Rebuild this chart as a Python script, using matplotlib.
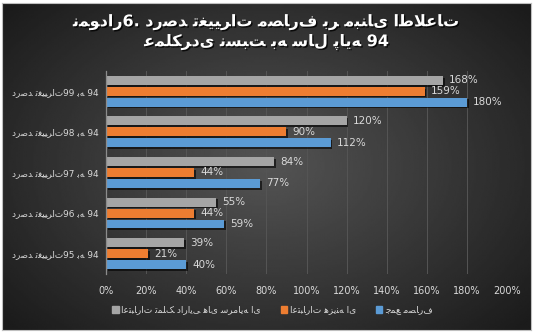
import numpy as np
import matplotlib.pyplot as plt
from matplotlib import patheffects as pe

# Arabic/Persian letters -> presentation forms (isolated, final, initial, medial)
FORMS = {
    "ا": ("\uFE8D", "\uFE8E"),
    "د": ("\uFEA9", "\uFEAA"),
    "ر": ("\uFEAD", "\uFEAE"),
    "ز": ("\uFEAF", "\uFEB0"),
    "و": ("\uFEED", "\uFEEE"),
    "ب": ("\uFE8F", "\uFE90", "\uFE91", "\uFE92"),
    "پ": ("\uFB56", "\uFB57", "\uFB58", "\uFB59"),
    "ت": ("\uFE95", "\uFE96", "\uFE97", "\uFE98"),
    "ج": ("\uFE9D", "\uFE9E", "\uFE9F", "\uFEA0"),
    "ح": ("\uFEA1", "\uFEA2", "\uFEA3", "\uFEA4"),
    "س": ("\uFEB1", "\uFEB2", "\uFEB3", "\uFEB4"),
    "ص": ("\uFEB9", "\uFEBA", "\uFEBB", "\uFEBC"),
    "ط": ("\uFEC1", "\uFEC2", "\uFEC3", "\uFEC4"),
    "ع": ("\uFEC9", "\uFECA", "\uFECB", "\uFECC"),
    "غ": ("\uFECD", "\uFECE", "\uFECF", "\uFED0"),
    "ف": ("\uFED1", "\uFED2", "\uFED3", "\uFED4"),
    "ک": ("\uFB8E", "\uFB8F", "\uFB90", "\uFB91"),
    "ل": ("\uFEDD", "\uFEDE", "\uFEDF", "\uFEE0"),
    "م": ("\uFEE1", "\uFEE2", "\uFEE3", "\uFEE4"),
    "ن": ("\uFEE5", "\uFEE6", "\uFEE7", "\uFEE8"),
    "ه": ("\uFEE9", "\uFEEA", "\uFEEB", "\uFEEC"),
    "ی": ("\uFBFC", "\uFBFD", "\uFBFE", "\uFBFF"),
}
LRM = "\u200e"


def shape_word(w):
    out = []
    i = 0
    n = len(w)
    while i < n:
        c = w[i]
        prev = w[i - 1] if i > 0 else None
        prev_joins = prev is not None and len(FORMS[prev]) == 4
        if c == "ل" and i + 1 < n and w[i + 1] == "ا":
            out.append("\uFEFC" if prev_joins else "\uFEFB")
            i += 2
            continue
        f = FORMS[c]
        next_joins = len(f) == 4 and i + 1 < n
        if prev_joins and next_joins:
            out.append(f[3])
        elif prev_joins:
            out.append(f[1])
        elif next_joins:
            out.append(f[2])
        else:
            out.append(f[0])
        i += 1
    return "".join(out)


def fa(s):
    # the renderer reorders right-to-left runs itself; LRMs keep the words
    # in left-to-right order as in the reference picture
    res = LRM
    run = ""
    for ch in s:
        if ch in FORMS:
            run += ch
        else:
            if run:
                res += shape_word(run) + LRM
                run = ""
            res += ch
            if ch == " ":
                res += LRM
    if run:
        res += shape_word(run) + LRM
    return res


title1 = "نمودار6. درصد تغییرات مصارف بر مبنای اطلاعات"
title2 = "عملکردی نسبت به سال پایه 94"
categories = ["درصد تغییرات99 به 94", "درصد تغییرات98 به 94", "درصد تغییرات97 به 94",
              "درصد تغییرات96 به 94", "درصد تغییرات95 به 94"]
series_names = ["اعتبارات تملک دارایی های سرمایه ای", "اعتبارات هزینه ای", "جمع مصارف"]
capital = [168, 120, 84, 55, 39]
current = [159, 90, 44, 44, 21]
total = [180, 112, 77, 59, 40]
xticks = [0, 20, 40, 60, 80, 100, 120, 140, 160, 180, 200]

colors = ["#A5A5A5", "#ED7D31", "#5B9BD5"]
txt = "#d9d9d9"

fig = plt.figure(figsize=(5.34, 3.32), dpi=100, facecolor="white")

# dark radial background
bg = fig.add_axes([0.004, 0.006, 0.99, 0.985])
yy, xx = np.mgrid[-1:1:200j, -1:1:320j]
r = np.sqrt(xx ** 2 + (yy * 0.9) ** 2)
bg.imshow(0.33 - 0.17 * np.clip(r, 0, 1.3), cmap="gray", vmin=0, vmax=1,
          aspect="auto", extent=[0, 1, 0, 1], interpolation="bilinear")
bg.set_xticks([])
bg.set_yticks([])
for s in bg.spines.values():
    s.set_color("#bfbfbf")
    s.set_linewidth(0.8)

ax = fig.add_axes([0.1985, 0.175, 0.751, 0.611])
ax.patch.set_alpha(0)

y = np.arange(len(categories))
h = 0.22
off = 0.27
shadow = [pe.SimplePatchShadow(offset=(1.2, -1.2), shadow_rgbFace="black", alpha=0.6), pe.Normal()]
for vals, dy, col in [(capital, -off, colors[0]), (current, 0, colors[1]), (total, off, colors[2])]:
    v = np.array(vals) / 100
    bars = ax.barh(y + dy, v, height=h, color=col, zorder=3)
    for b in bars:
        b.set_path_effects(shadow)
    for yi, vi, lab in zip(y + dy, v, vals):
        ax.text(vi + 0.03, yi, f"{lab}%", va="center", ha="left", color=txt,
                fontsize=7.5, zorder=4)

ax.set_xlim(0, 2)
ax.set_ylim(4.5, -0.5)
ax.set_xticks([t / 100 for t in xticks])
ax.set_xticklabels([f"{t}%" for t in xticks], color=txt, fontsize=7)
ax.set_yticks(y)
ax.set_yticklabels([fa(c) for c in categories], color=txt, fontsize=6.4)
ax.tick_params(axis="x", length=0, pad=9)
ax.tick_params(axis="y", length=0, pad=5)
ax.grid(axis="x", color="#555555", linewidth=0.7, zorder=0)
for k in ["top", "right", "bottom"]:
    ax.spines[k].set_visible(False)
ax.spines["left"].set_color("#8c8c8c")
ax.spines["left"].set_linewidth(0.9)
ax.spines["left"].set_zorder(5)

handles = [plt.Rectangle((0, 0), 1, 1, color=c) for c in colors]
fig.legend(handles, [fa(n) for n in series_names], ncol=3, loc="center",
           bbox_to_anchor=(0.51, 0.066), frameon=False, fontsize=6.5,
           labelcolor=txt, handlelength=0.7, handleheight=0.7, handletextpad=0.3,
           columnspacing=2.2)

tshadow = [pe.withSimplePatchShadow(offset=(1, -1), shadow_rgbFace="black", alpha=0.8)]
fig.text(0.5, 0.933, fa(title1), ha="center", va="center", color="white",
         fontsize=11.5, fontweight="bold", path_effects=tshadow)
fig.text(0.5, 0.873, fa(title2), ha="center", va="center", color="white",
         fontsize=11.5, fontweight="bold", path_effects=tshadow)

fig.savefig("out.png", dpi=100, facecolor="white")
